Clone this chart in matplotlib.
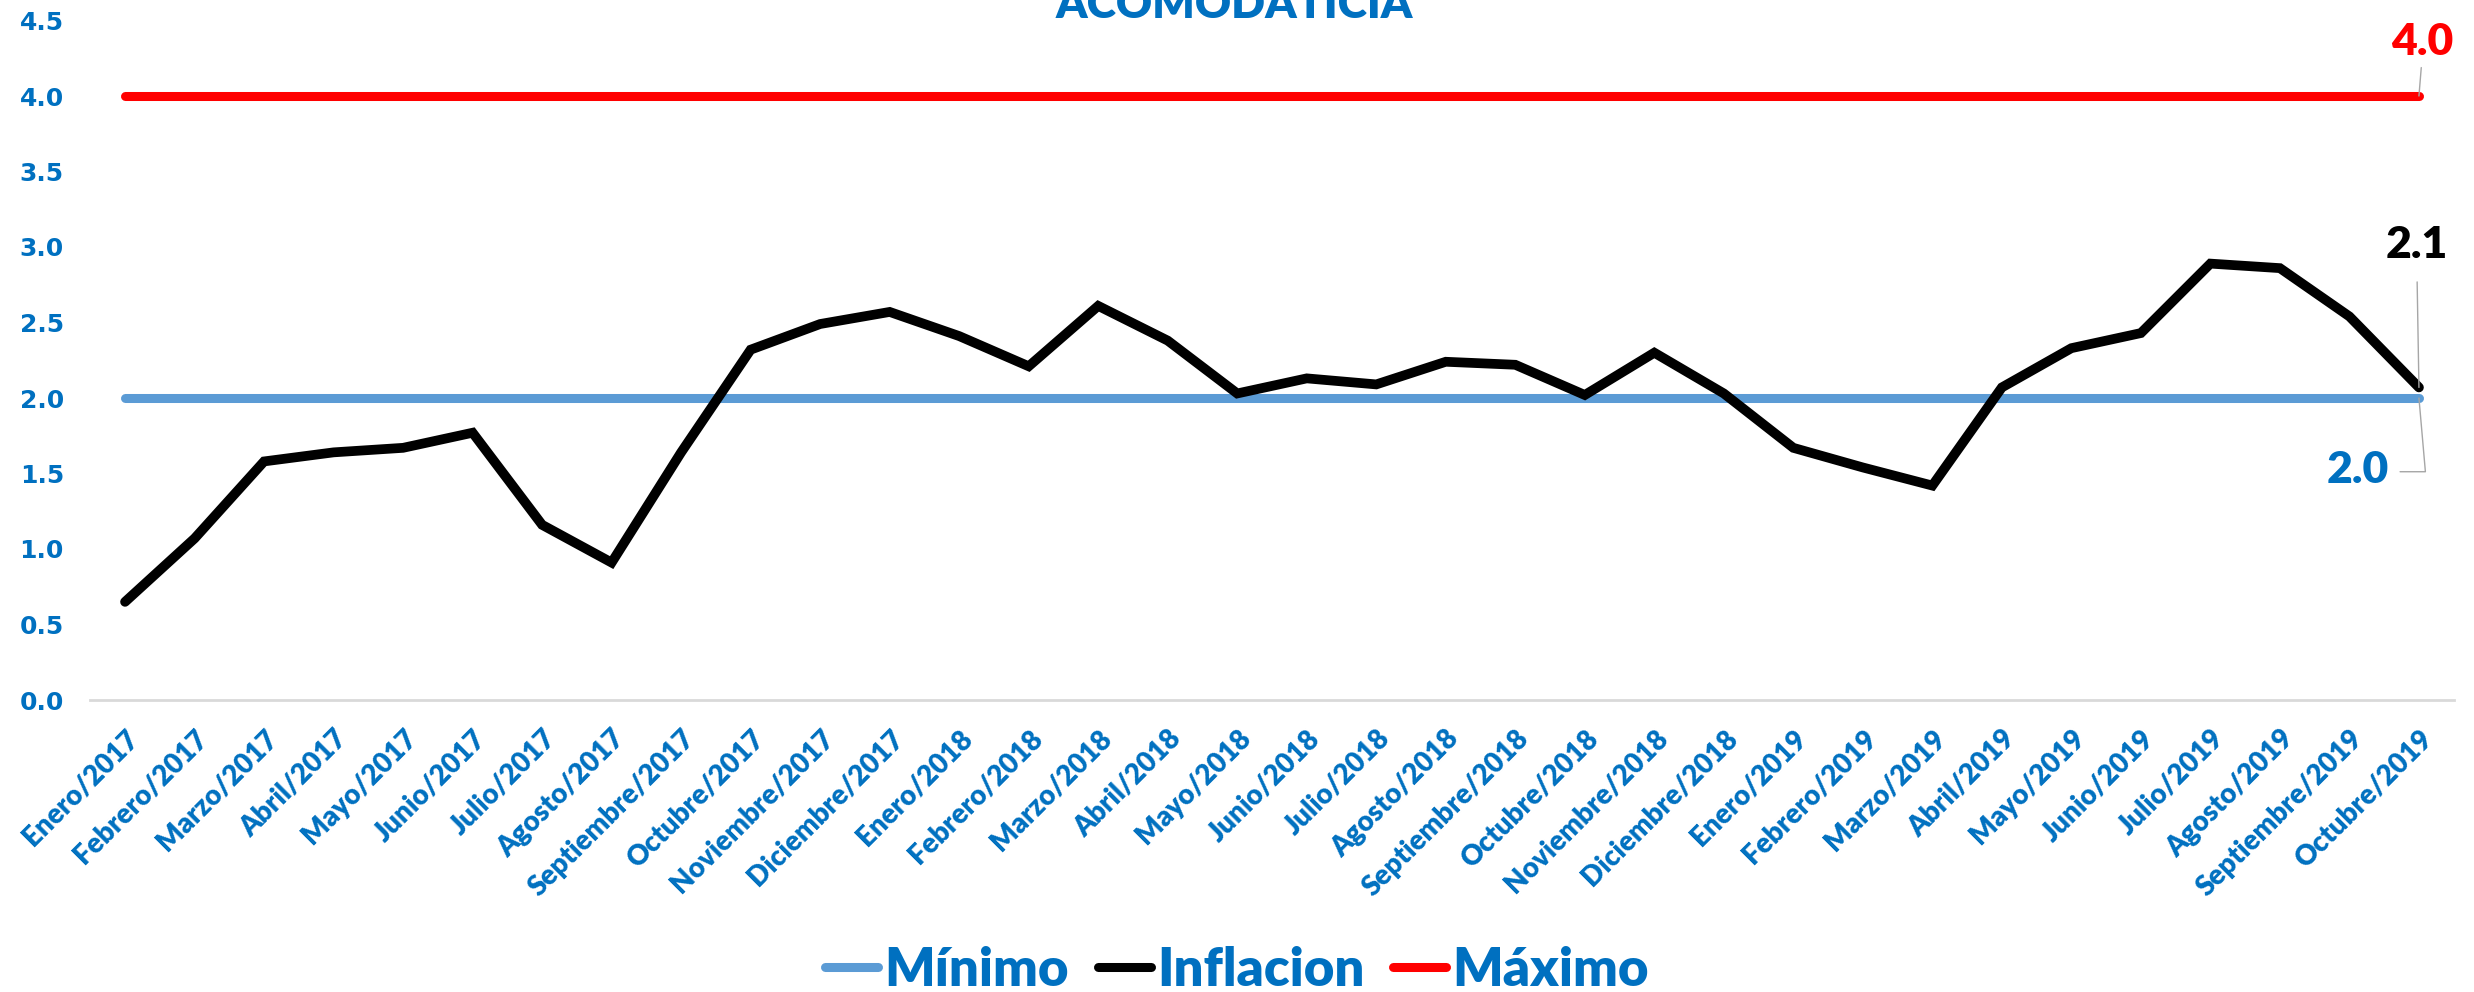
import matplotlib
matplotlib.use("Agg")
import matplotlib.pyplot as plt
import numpy as np

months = ["Enero/2017", "Febrero/2017", "Marzo/2017", "Abril/2017", "Mayo/2017", "Junio/2017",
          "Julio/2017", "Agosto/2017", "Septiembre/2017", "Octubre/2017", "Noviembre/2017", "Diciembre/2017",
          "Enero/2018", "Febrero/2018", "Marzo/2018", "Abril/2018", "Mayo/2018", "Junio/2018",
          "Julio/2018", "Agosto/2018", "Septiembre/2018", "Octubre/2018", "Noviembre/2018", "Diciembre/2018",
          "Enero/2019", "Febrero/2019", "Marzo/2019", "Abril/2019", "Mayo/2019", "Junio/2019",
          "Julio/2019", "Agosto/2019", "Septiembre/2019", "Octubre/2019"]
inflacion = [0.65, 1.07, 1.58, 1.64, 1.67, 1.77, 1.16, 0.91, 1.64, 2.32, 2.49, 2.57,
             2.41, 2.21, 2.61, 2.38, 2.03, 2.13, 2.09, 2.24, 2.22, 2.02, 2.30, 2.03,
             1.67, 1.54, 1.42, 2.07, 2.33, 2.43, 2.89, 2.86, 2.54, 2.07]
minimo = [2.0] * len(months)
maximo = [4.0] * len(months)
yticks = [0.0, 0.5, 1.0, 1.5, 2.0, 2.5, 3.0, 3.5, 4.0, 4.5]

BLUE_TXT = "#0070C0"
BLUE_LINE = "#5B9BD5"
RED = "#FF0000"
GRAY = "#A6A6A6"

W, H = 2474, 992
fig = plt.figure(figsize=(W / 100, H / 100), dpi=100)
left, right = 90.3 / W, 2453.7 / W
bottom, top = 1 - 700 / H, 1 - 20.5 / H
ax = fig.add_axes([left, bottom, right - left, top - bottom])

x = np.arange(len(months))
ax.plot(x, minimo, color=BLUE_LINE, lw=6.5, solid_capstyle="round", label="Mínimo", zorder=3)
ax.plot(x, inflacion, color="black", lw=7, solid_capstyle="round", solid_joinstyle="miter",
        label="Inflacion", zorder=5)
ax.plot(x, maximo, color=RED, lw=6.5, solid_capstyle="round", label="Máximo", zorder=4)

ax.set_xlim(-0.5, len(months) - 0.5)
ax.set_ylim(0, 4.5)
ax.set_yticks(yticks)
ax.set_yticklabels([f"{v:.1f}" for v in yticks], fontfamily="DejaVu Sans",
                   fontweight="bold", fontsize=18, color=BLUE_TXT)
ax.set_xticks(x)
ax.set_xticklabels(months, rotation=45, ha="right", va="top", rotation_mode="anchor",
                   fontfamily=["Lato", "DejaVu Sans"], fontweight="heavy", fontsize=20, color=BLUE_TXT)
ax.tick_params(axis="y", length=0, pad=19)
ax.tick_params(axis="x", length=0, pad=18)
for s in ["left", "right", "top"]:
    ax.spines[s].set_visible(False)
ax.spines["bottom"].set_color("#D9D9D9")
ax.spines["bottom"].set_linewidth(2)

lbl_font = dict(fontfamily=["Lato", "DejaVu Sans"], fontweight="heavy", fontsize=32)
last = len(months) - 1
ax.annotate(f"{maximo[-1]:.1f}", xy=(last, maximo[-1]), xytext=(2, 29.5), textcoords="offset points",
            ha="center", va="baseline", color=RED, **lbl_font,
            arrowprops=dict(arrowstyle="-", color=GRAY, lw=1, shrinkA=2, shrinkB=0, relpos=(0.5, 0)),
            zorder=6)
ax.annotate(f"{inflacion[-1]:.1f}", xy=(last, inflacion[-1]), xytext=(-1.5, 93), textcoords="offset points",
            ha="center", va="baseline", color="black", **lbl_font,
            arrowprops=dict(arrowstyle="-", color=GRAY, lw=1, shrinkA=10, shrinkB=0, relpos=(0.5, 0)),
            zorder=6)
ax.annotate(f"{minimo[-1]:.1f}", xy=(last, minimo[-1]), xytext=(-44, -61), textcoords="offset points",
            ha="center", va="baseline", color=BLUE_TXT, **lbl_font,
            arrowprops=dict(arrowstyle="-", color=GRAY, lw=1, shrinkA=6, shrinkB=0, relpos=(1, 0.45),
                            connectionstyle="angle,angleA=0,angleB=95,rad=0"),
            zorder=6)

fig.text(1234 / W, 1 - 18 / H, "ACOMODATICIA", ha="center", va="baseline",
         fontfamily=["Lato", "DejaVu Sans"], fontweight="heavy", fontsize=32, color=BLUE_TXT)

handles, labels = ax.get_legend_handles_labels()
leg = fig.legend(handles, labels, loc="center", bbox_to_anchor=(0.5, 0.022), ncol=3, frameon=False,
                 handlelength=1.0, handletextpad=0.12, columnspacing=0.55,
                 prop=dict(family=["Lato", "DejaVu Sans"], weight="heavy", size=38))
for t in leg.get_texts():
    t.set_color(BLUE_TXT)
for l in leg.get_lines():
    l.set_linewidth(6.5)
    l.set_solid_capstyle("round")

fig.savefig("out.png", dpi=100)
